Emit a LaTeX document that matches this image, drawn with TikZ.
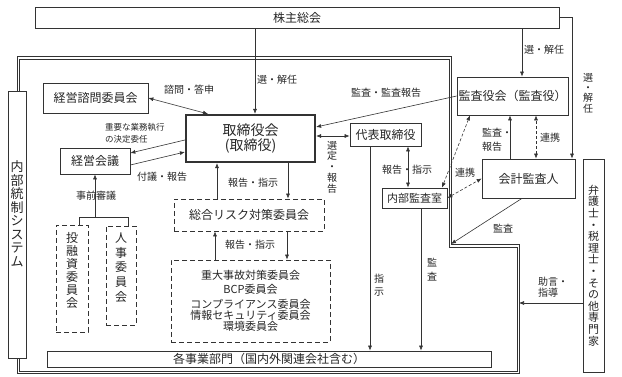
\documentclass[tikz,border=0pt]{standalone}
\usepackage{fontspec}
\setmainfont{Noto Sans CJK JP}
\usetikzlibrary{arrows.meta}
\begin{document}
\begin{tikzpicture}[x=1pt,y=-1pt,
  every node/.style={inner sep=0pt, text=black!85},
  box/.style={draw=black!80, line width=0.7pt, font=\fontsize{12}{14}\selectfont},
  dbox/.style={box, dash pattern=on 5pt off 3pt},
  lbl/.style={font=\fontsize{10}{11}\selectfont},
  vlbl/.style={font=\fontsize{10}{10.8}\selectfont, align=center},
  ln/.style={draw=black!80, line width=0.6pt},
  arr/.style={ln, -{Latex[length=5pt,width=4pt]}},
  arrb/.style={ln, {Latex[length=5pt,width=4pt]}-{Latex[length=5pt,width=4pt]}},
  darrb/.style={arrb, dash pattern=on 3pt off 2pt},
  bline/.style={draw=black!80, line width=0.6pt}
]
\useasboundingbox (0,0) rectangle (622,377);

% internal control boundary (double line)
\coordinate (bA) at (18,58);
\coordinate (bC) at (450,246);
\coordinate (bE) at (518,372);
\draw[bline] (16.8,56.8) -- (451.2,56.8) -- (451.2,244.8) -- (519.2,244.8) -- (519.2,373.2) -- (16.8,373.2) -- cycle;
\draw[bline] (19.2,59.2) -- (448.8,59.2) -- (448.8,247.2) -- (516.8,247.2) -- (516.8,370.8) -- (19.2,370.8) -- (19.2,59.2);

% boxes
\node[box, minimum width=524, minimum height=21] (kabu) at (297,17.5) {株主総会};
\node[box, line width=2.2pt, minimum width=129, minimum height=47,
      font=\fontsize{14}{15.5}\selectfont, align=center] (tori) at (250.5,138.5) {取締役会\\(取締役)};
\node[box, minimum width=111, minimum height=38] (kansa) at (512.5,96) {監査役会（監査役）};
\node[box, minimum width=93, minimum height=39] (kaikei) at (528.5,178.5) {会計監査人};
\node[box, minimum width=71, minimum height=23] (daihyo) at (385.5,134.5) {代表取締役};
\node[box, minimum width=65, minimum height=20, font=\fontsize{11}{13}\selectfont] (naibu) at (414.5,198) {内部監査室};
\node[box, minimum width=105, minimum height=30] (keishimon) at (95.5,98) {経営諮問委員会};
\node[box, minimum width=70, minimum height=26] (keikai) at (95,161) {経営会議};
\node[dbox, minimum width=150, minimum height=32] (sogo) at (249,215) {総合リスク対策委員会};
\node[dbox, minimum width=159, minimum height=82, font=\fontsize{11}{11}\selectfont, align=center] (judai) at (250.5,301)
  {重大事故対策委員会\\[3pt]BCP委員会\\[4pt]コンプライアンス委員会\\情報セキュリティ委員会\\環境委員会};
\node[dbox, minimum width=32, minimum height=107] (toyushi) at (72,278.5) {};
\node[font=\fontsize{12}{13}\selectfont, align=center] (toyushitxt) at (72,270) {投\\融\\資\\委\\員\\会};
\node[dbox, minimum width=30, minimum height=99] (jinji) at (121,275.5) {};
\node[font=\fontsize{12}{14.7}\selectfont, align=center] (jinjitxt) at (121,267.5) {人\\事\\委\\員\\会};
\node[box, fill=white, minimum width=18, minimum height=267] (naibutosei) at (17,224.5) {};
\node[font=\fontsize{13}{13.5}\selectfont, align=center] (naibutoseitxt) at (17,214) {内\\部\\統\\制\\シ\\ス\\テ\\ム};
\node[box, minimum width=21, minimum height=213, font=\fontsize{11}{11.6}\selectfont, align=center] (bengoshi) at (593.5,265.5)
  {弁\\護\\士\\・\\税\\理\\士\\・\\そ\\の\\他\\専\\門\\家};
\node[box, minimum width=444, minimum height=16] (kakujigyo) at (269,359) {各事業部門（国内外関連会社含む）};

% connectors
\coordinate (t1) at ([xshift=4.5pt]tori.north);
\draw[arr] (kabu.south -| t1) -- (t1);
\coordinate (k1) at ([xshift=9.5pt]kansa.north);
\draw[arr] (kabu.south -| k1) -- (k1);
\coordinate (k2) at ([xshift=43.5pt]kaikei.north);
\draw[arr] (kabu.east) -| (k2);

\coordinate (t2) at ([xshift=-42.5pt]tori.north);
\draw[arrb] (keishimon.east) -- (t2);

\coordinate (t3) at ([yshift=-1.5pt]tori.west);
\coordinate (e1) at ([yshift=8pt]keikai.east);
\draw[arr] (t3) -- (e1);
\coordinate (e2) at ([yshift=-4pt]keikai.east);
\coordinate (t4) at ([yshift=-13.5pt]tori.west);
\draw[arr] (e2) -- (t4);

\coordinate (d1) at ([xshift=7pt]toyushi.north);
\coordinate (d2) at ([xshift=7pt]jinji.north);
\coordinate (jn) at (95,217);
\draw[ln] (d1) -- (d1 |- jn) -- (d2 |- jn) -- (d2);
\draw[arr] (jn) -- (keikai.south);

\coordinate (s1) at ([xshift=-32pt]sogo.north);
\coordinate (s2) at ([xshift=39pt]sogo.north);
\draw[arr] (s1) -- (s1 |- tori.south);
\draw[arr] (s2 |- tori.south) -- (s2);
\coordinate (j1) at ([xshift=-35.5pt]judai.north);
\coordinate (j2) at ([xshift=36.5pt]judai.north);
\draw[arr] (j1) -- (j1 |- sogo.south);
\draw[arr] (j2 |- sogo.south) -- (j2);

\coordinate (t5) at ([yshift=11.5pt]tori.east);
\draw[arr] (kansa.west) -- (t5);
\coordinate (t6) at ([yshift=2.5pt]tori.east);
\draw[arrb] (t6) -- (t6 -| daihyo.west);

\coordinate (d3) at ([xshift=-15.5pt]daihyo.south);
\draw[arr] (d3) -- (d3 |- kakujigyo.north);
\coordinate (d4) at ([xshift=22.5pt]daihyo.south);
\draw[arrb] (d4) -- (d4 |- naibu.north);
\coordinate (n1) at ([xshift=6.5pt]naibu.south);
\draw[arr] (n1) -- (n1 |- kakujigyo.north);

\coordinate (ka1) at ([xshift=-42.5pt]kansa.south);
\coordinate (nb1) at ([xshift=27.5pt]naibu.north);
\draw[darrb] (ka1) -- (nb1);
\draw[darrb] (naibu.east) -- (kaikei.west);

\coordinate (k3) at ([xshift=-18.5pt]kaikei.north);
\draw[arr] (k3) -- (k3 |- kansa.south);
\coordinate (k4) at ([xshift=7.5pt]kaikei.north);
\draw[darrb] (k4) -- (k4 |- kansa.south);

\coordinate (k5) at ([xshift=-6.5pt]kaikei.south);
\draw[arr] (k5) -- ([xshift=1pt,yshift=2pt]bC);

\coordinate (b1) at ([yshift=-37.5pt]bengoshi.west);
\draw[arr] (b1) -- ([xshift=1pt]b1 -| bE);

% labels
\node[lbl] (l1) at (277,80) {選・解任};
\node[lbl] (l2) at (544,50) {選・解任};
\node[vlbl, font=\fontsize{10}{10.3}\selectfont] (l3) at (588,93) {選\\・\\解\\任};
\node[lbl] (l4) at (189,90) {諮問・答申};
\node[lbl, font=\fontsize{8.5}{12}\selectfont, align=left, anchor=west] (l5) at (105,133) {重要な業務執行\\の決定委任};
\node[lbl] (l6) at (162,177) {付議・報告};
\node[lbl] (l7) at (96,196) {事前審議};
\node[lbl] (l8) at (253,183) {報告・指示};
\node[lbl] (l9) at (250,245) {報告・指示};
\node[lbl] (l10) at (386,93) {監査・監査報告};
\node[vlbl] (l11) at (332,167) {選\\定\\・\\報\\告};
\node[lbl] (l12) at (407,170) {報告・指示};
\node[lbl] (l13) at (465,173) {連携};
\node[lbl, font=\fontsize{10}{14}\selectfont, align=left, anchor=west] (l14) at (482,140) {監査・\\報告};
\node[lbl] (l15) at (550,138) {連携};
\node[vlbl, font=\fontsize{10}{13}\selectfont] (l16) at (379,285) {指\\示};
\node[vlbl, font=\fontsize{10}{14}\selectfont] (l17) at (432,270) {監\\査};
\node[lbl] (l18) at (503,229) {監査};
\node[lbl, font=\fontsize{10}{11}\selectfont, align=left, anchor=west] (l19) at (538,287) {助言・\\指導};
\end{tikzpicture}
\end{document}
